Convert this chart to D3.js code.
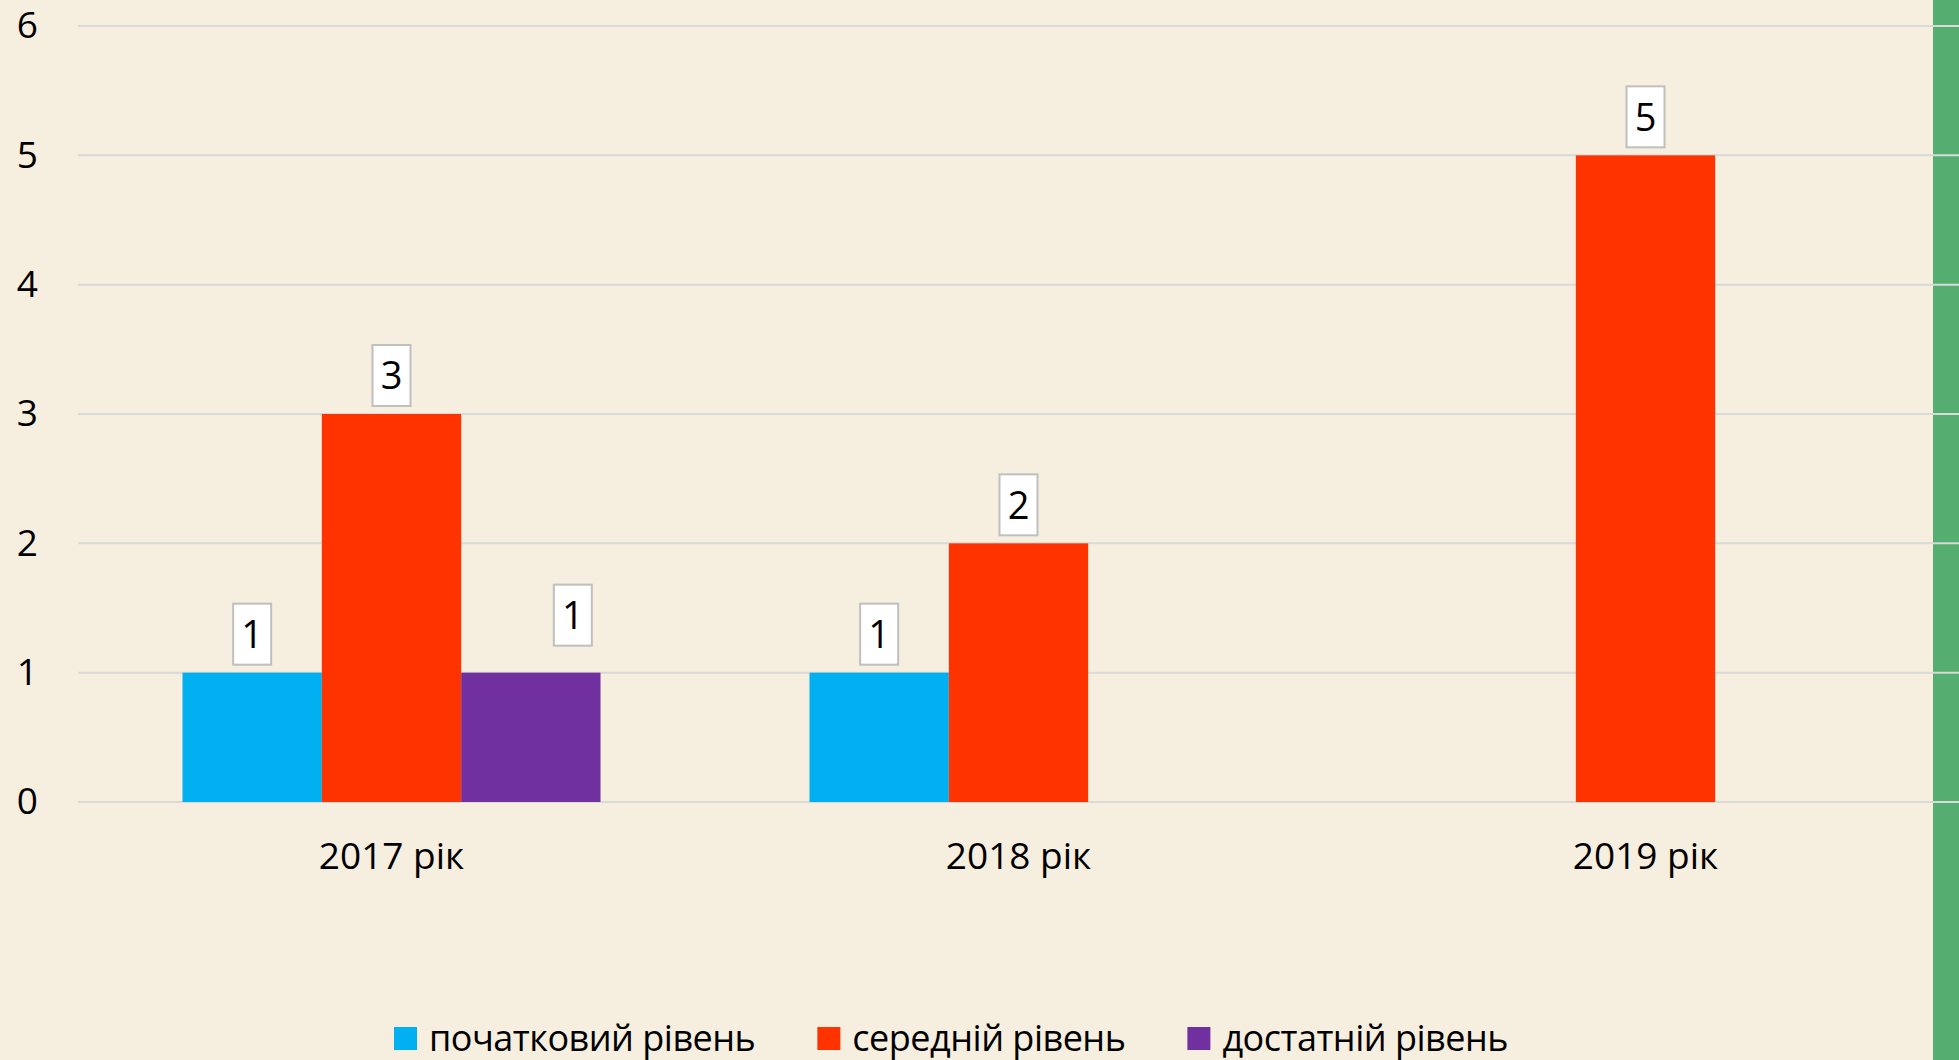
<!DOCTYPE html>
<html>
<head>
<meta charset="utf-8">
<script src="https://cdn.jsdelivr.net/npm/d3@7"></script>
<style>
  html, body { margin: 0; padding: 0; background: #f6efdf; overflow: hidden; }
  svg { display: block; font-family: "Open Sans", "Noto Sans", sans-serif; }
</style>
</head>
<body>
<svg id="chart" width="1959" height="1060"></svg>
<script>
// chart data
const years = ["2017 рік", "2018 рік", "2019 рік"];
const levels = ["початковий рівень", "середній рівень", "достатній рівень"];
const levelColors = ["#00b0f0", "#ff3300", "#7030a0"];
// values per level, in the order of years (null = no bar)
const initialLevel = [1, 1, null];
const middleLevel = [3, 2, 5];
const sufficientLevel = [1, null, null];
const yTicks = [0, 1, 2, 3, 4, 5, 6];

const series = [initialLevel, middleLevel, sufficientLevel];

const W = 1959, H = 1060;
const margin = { left: 78, right: 0, top: 26, bottom: 258 };
const svg = d3.select("#chart");

// green strip on the right edge
svg.append("rect")
  .attr("x", 1933).attr("y", 0)
  .attr("width", W - 1933).attr("height", H)
  .attr("fill", "#55ae6f");

const x0 = d3.scaleBand()
  .domain(years)
  .range([margin.left, W - margin.right])
  .paddingInner(1 / 3).paddingOuter(1 / 6);

const x1 = d3.scaleBand()
  .domain(levels)
  .range([0, x0.bandwidth()]);

const y = d3.scaleLinear()
  .domain([0, 6])
  .range([H - margin.bottom, margin.top]);

// gridlines
svg.append("g")
  .selectAll("line")
  .data(yTicks)
  .join("line")
  .attr("x1", margin.left).attr("x2", W)
  .attr("y1", d => y(d)).attr("y2", d => y(d))
  .attr("stroke", "#d9d9d9")
  .attr("stroke-width", 2);

// y axis labels
const yAxis = d3.axisLeft(y).tickValues(yTicks).tickFormat(d3.format("d")).tickSize(0).tickPadding(40);
svg.append("g")
  .attr("transform", `translate(${margin.left},0)`)
  .call(yAxis)
  .call(g => g.select(".domain").remove())
  .call(g => g.selectAll("text")
    .attr("font-size", 37)
    .attr("font-family", "'Open Sans', 'Noto Sans', sans-serif")
    .attr("fill", "#000"));

// x axis labels
const xAxis = d3.axisBottom(x0).tickSize(0).tickPadding(41);
svg.append("g")
  .attr("transform", `translate(0,${y(0)})`)
  .call(xAxis)
  .call(g => g.select(".domain").remove())
  .call(g => g.selectAll("text")
    .attr("font-size", 37)
    .attr("font-family", "'Open Sans', 'Noto Sans', sans-serif")
    .attr("fill", "#000"));

// flatten bars
const bars = [];
years.forEach((yr, i) => {
  levels.forEach((lv, j) => {
    const v = series[j][i];
    if (v != null) bars.push({ year: yr, level: lv, value: v, color: levelColors[j] });
  });
});

svg.append("g")
  .selectAll("rect")
  .data(bars)
  .join("rect")
  .attr("x", d => x0(d.year) + x1(d.level))
  .attr("y", d => y(d.value))
  .attr("width", x1.bandwidth())
  .attr("height", d => y(0) - y(d.value))
  .attr("fill", d => d.color);

// data labels in white boxes
const boxW = 38, boxH = 61, boxGap = 8;
const labels = svg.append("g")
  .selectAll("g")
  .data(bars)
  .join("g")
  .attr("transform", d => {
    let cx = x0(d.year) + x1(d.level) + x1.bandwidth() / 2;
    let bottom = y(d.value) - boxGap;
    // the purple label was dragged a bit in the original
    if (d.level === levels[2]) { cx += 42; bottom -= 19; }
    return `translate(${cx},${bottom - boxH / 2})`;
  });

labels.append("rect")
  .attr("x", -boxW / 2).attr("y", -boxH / 2)
  .attr("width", boxW).attr("height", boxH)
  .attr("fill", "#fff")
  .attr("stroke", "#bfbfbf")
  .attr("stroke-width", 2);

labels.append("text")
  .attr("text-anchor", "middle")
  .attr("dy", "0.36em")
  .attr("font-size", 38)
  .attr("fill", "#000")
  .text(d => d.value);

// legend
const legend = svg.append("g");
const items = legend.selectAll("g")
  .data(levels)
  .join("g");

items.append("rect")
  .attr("width", 23).attr("height", 23)
  .attr("y", 1027)
  .attr("fill", (d, i) => levelColors[i]);

items.append("text")
  .attr("x", 35)
  .attr("y", 1051)
  .attr("font-size", 36)
  .attr("letter-spacing", -0.5)
  .attr("fill", "#000")
  .text(d => d);

let widths = [];
items.each(function() { widths.push(this.getBBox().width); });
const itemGap = 62;
const totalW = d3.sum(widths) + itemGap * (widths.length - 1);
let cursor = 951 - totalW / 2;
items.attr("transform", (d, i) => {
  const t = `translate(${cursor},0)`;
  cursor += widths[i] + itemGap;
  return t;
});
</script>
</body>
</html>
